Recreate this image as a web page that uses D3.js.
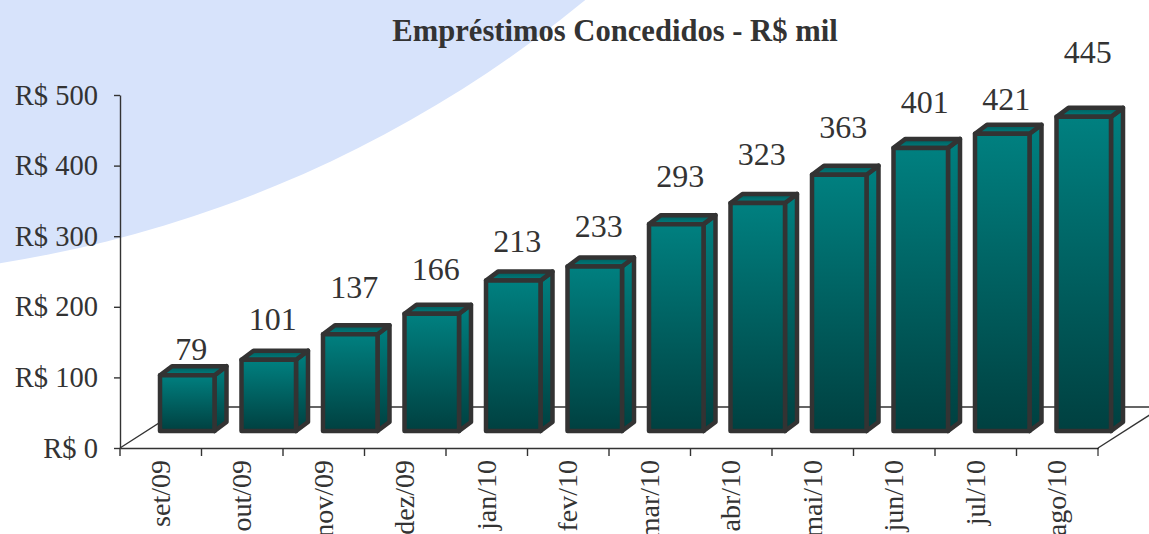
<!DOCTYPE html>
<html>
<head>
<meta charset="utf-8">
<script src="https://cdn.jsdelivr.net/npm/d3@7"></script>
<style>
  html, body { margin: 0; padding: 0; background: #fff; overflow: hidden; }
  text { font-family: "Liberation Serif", serif; fill: #333; }
</style>
</head>
<body>
<div id="chart"></div>
<script>
// data
const months = ["set/09", "out/09", "nov/09", "dez/09", "jan/10", "fev/10", "mar/10", "abr/10", "mai/10", "jun/10", "jul/10", "ago/10"];
const loans = [79, 101, 137, 166, 213, 233, 293, 323, 363, 401, 421, 445];
const yTicks = [0, 100, 200, 300, 400, 500];

// hand placed in the original slide, so the gap above each bar varies
const labelLift = [15, 30, 36, 34, 29, 30, 37, 38, 37, 35, 24, 54];

const width = 1149, height = 534;
const axisX = 120, axisRight = 1098, axisTop = 95, axisBottom = 448;
const floorDx = 64, floorDy = 41;
const barDx = 12, barDy = 9;
const barBase = 431, barTopAt500 = 78;
const ink = "#333";

const svg = d3.select("#chart").append("svg")
  .attr("width", width)
  .attr("height", height)
  .style("display", "block");

const defs = svg.append("defs");

function addGradient(id, from, to) {
  const g = defs.append("linearGradient")
    .attr("id", id)
    .attr("x1", 0).attr("y1", 0).attr("x2", 0).attr("y2", 1);
  g.append("stop").attr("offset", "0%").attr("stop-color", from);
  g.append("stop").attr("offset", "100%").attr("stop-color", to);
}
addGradient("barFill", "#008080", "#004040");
addGradient("topFill", "#005c5c", "#008080");

// --- background shape : a big circle mostly off the page ---
svg.append("circle")
  .attr("cx", -189)
  .attr("cy", -939)
  .attr("r", 1217)
  .attr("fill", "#d7e3fb");

// --- scales ---
const x = d3.scaleBand().domain(months).range([axisX, axisRight]);
const y = d3.scaleLinear().domain([0, 500]).range([axisBottom, axisTop]);
const yBar = d3.scaleLinear().domain([0, 500]).range([barBase, barTopAt500]);

// --- floor and back wall ---
const floor = svg.append("g").attr("fill", "none").attr("stroke", ink).attr("stroke-width", 1.4);
floor.append("path").attr("d", `M${axisX},${axisBottom}l${floorDx},${-floorDy}H${width}`);
floor.append("path").attr("d", `M${axisRight},${axisBottom}l${floorDx},${-floorDy}`);

// --- axes ---
const gy = svg.append("g")
  .attr("transform", `translate(${axisX},0)`)
  .call(d3.axisLeft(y).tickValues(yTicks).tickSize(6).tickSizeOuter(0).tickPadding(16)
    .tickFormat((d) => `R$ ${d}`));
gy.selectAll("text").style("font-size", "28.5px");

const gx = svg.append("g")
  .attr("transform", `translate(0,${axisBottom})`)
  .call(d3.axisBottom(x).tickSize(8).tickSizeOuter(0));
gx.selectAll("text")
  .attr("transform", "rotate(-90)")
  .attr("x", -12)
  .attr("y", -1)
  .attr("dy", "0.35em")
  .style("text-anchor", "end")
  .style("font-size", "28px");

// ticks sit between the categories, not under them
gx.selectAll(".tick line").attr("x1", -x.step() / 2).attr("x2", -x.step() / 2);
gx.append("line")
  .attr("x1", axisRight).attr("x2", axisRight)
  .attr("y1", 0).attr("y2", 8)
  .attr("stroke", "currentColor");

svg.selectAll(".domain, .tick line").attr("stroke", ink).attr("stroke-width", 1.4);

// --- bars ---
const barW = 54.5, barOffset = 40;
const barData = months.map((m, i) => ({ month: m, value: loans[i], lift: labelLift[i] }));

const bars = svg.append("g").selectAll("g.bar")
  .data(barData, (d) => d.month)
  .join("g")
  .attr("class", "bar")
  .attr("fill", "url(#barFill)")
  .attr("stroke", ink)
  .attr("stroke-width", 4.5)
  .attr("stroke-linejoin", "round");

const barLeft = (d) => x(d.month) + barOffset;

// side face
bars.append("path")
  .attr("d", (d) => {
    const r = barLeft(d) + barW, t = yBar(d.value);
    return `M${r},${t}l${barDx},${-barDy}V${barBase - barDy}l${-barDx},${barDy}Z`;
  });

// top face
bars.append("path")
  .attr("fill", "url(#topFill)")
  .attr("d", (d) => {
    const l = barLeft(d), t = yBar(d.value);
    return `M${l},${t}l${barDx},${-barDy}h${barW}l${-barDx},${barDy}Z`;
  });

// front face
bars.append("rect")
  .attr("x", barLeft)
  .attr("y", (d) => yBar(d.value))
  .attr("width", barW)
  .attr("height", (d) => barBase - yBar(d.value));

// --- value labels ---
svg.append("g").selectAll("text")
  .data(barData, (d) => d.month)
  .join("text")
  .attr("x", (d) => barLeft(d) + barW / 2 + 4)
  .attr("y", (d) => yBar(d.value) - d.lift)
  .attr("text-anchor", "middle")
  .style("font-size", "32px")
  .text((d) => d.value);

// --- title ---
svg.append("text")
  .attr("x", 615)
  .attr("y", 41)
  .attr("text-anchor", "middle")
  .style("font-size", "30.6px")
  .style("font-weight", "700")
  .text("Empréstimos Concedidos - R$ mil");
</script>
</body>
</html>
